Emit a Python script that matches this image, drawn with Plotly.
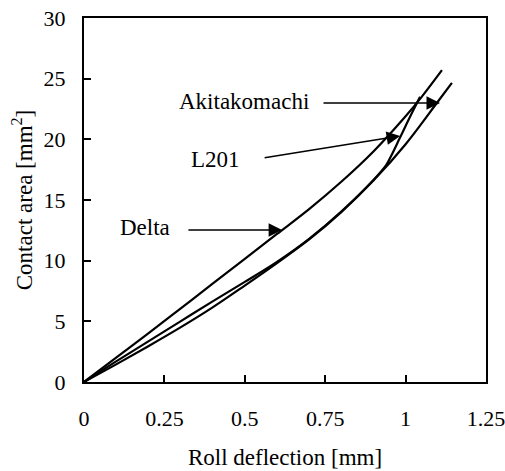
import plotly.graph_objects as go

# Contact area vs. roll deflection for three cultivars
delta_x = [0, 0.1, 0.2, 0.3, 0.4, 0.5, 0.6, 0.7, 0.8, 0.9, 1.0, 1.05, 1.113]
delta_y = [0, 2.0, 4.0, 6.05, 8.1, 10.15, 12.2, 14.25, 16.5, 19.0, 21.9, 23.5, 25.7]

l201_x = [0, 0.1, 0.2, 0.3, 0.4, 0.5, 0.6, 0.7, 0.8, 0.9, 0.94, 0.96, 0.98, 1.0, 1.02, 1.045]
l201_y = [0, 1.7, 3.35, 5.0, 6.65, 8.25, 9.9, 11.8, 14.05, 16.65, 17.9, 18.9, 20.0, 21.1, 22.2, 23.5]

akita_x = [0, 0.1, 0.2, 0.3, 0.4, 0.5, 0.6, 0.7, 0.8, 0.9, 1.0, 1.1, 1.144]
akita_y = [0, 1.45, 2.95, 4.5, 6.15, 7.95, 9.8, 11.75, 14.0, 16.6, 19.6, 23.1, 24.65]

x_ticks = [0, 0.25, 0.5, 0.75, 1, 1.25]
x_tick_text = ["0", "0.25", "0.5", "0.75", "1", "1.25"]
y_ticks = [0, 5, 10, 15, 20, 25, 30]

# label text, label position, arrow tail, arrow head
labels = ["Akitakomachi", "L201", "Delta"]
label_pos = [(0.496, 23.1), (0.41, 18.3), (0.19, 12.7)]
arrow_tail = [(0.74, 23.0), (0.557, 18.46), (0.32, 12.53)]
arrow_head = [(1.107, 23.0), (0.983, 20.28), (0.616, 12.53)]

FONT = "Liberation Serif, Times New Roman, serif"

fig = go.Figure()
for xs, ys in [(delta_x, delta_y), (l201_x, l201_y), (akita_x, akita_y)]:
    fig.add_trace(go.Scatter(x=xs, y=ys, mode="lines", line=dict(color="black", width=2.2, shape="spline"),
                             showlegend=False, hoverinfo="skip"))

annotations = []
for name, (tx, ty), (ax, ay), (hx, hy) in zip(labels, label_pos, arrow_tail, arrow_head):
    annotations.append(dict(x=tx, y=ty, xref="x", yref="y", text=name, showarrow=False,
                            font=dict(family=FONT, size=23, color="black")))
    annotations.append(dict(x=hx, y=hy, ax=ax, ay=ay, xref="x", yref="y", axref="x", ayref="y",
                            text="", showarrow=True, arrowhead=2, arrowsize=1.8, arrowwidth=1.5,
                            arrowcolor="black", standoff=0))

axis_common = dict(showline=True, linecolor="black", linewidth=2, mirror=True, showgrid=False,
                   zeroline=False, ticks="inside", ticklen=7, tickwidth=1.5, tickcolor="black",
                   automargin=False, ticklabeloverflow="allow",
                   tickfont=dict(family=FONT, size=22, color="black"))

fig.update_layout(
    width=505, height=471,
    margin=dict(l=84, r=19, t=18, b=89),
    paper_bgcolor="white", plot_bgcolor="white",
    font=dict(family=FONT, color="black"),
    annotations=annotations,
    xaxis=dict(range=[0, 1.25], tickvals=x_ticks, ticktext=x_tick_text, ticklabelstandoff=16,
               title=dict(text="Roll deflection [mm]", font=dict(family=FONT, size=23), standoff=18),
               **axis_common),
    yaxis=dict(range=[0, 30], tickvals=y_ticks, ticklabelstandoff=12,
               title=dict(text="Contact area [mm<sup>2</sup>]", font=dict(family=FONT, size=23), standoff=5),
               **axis_common),
)

fig.write_html("out.html")
